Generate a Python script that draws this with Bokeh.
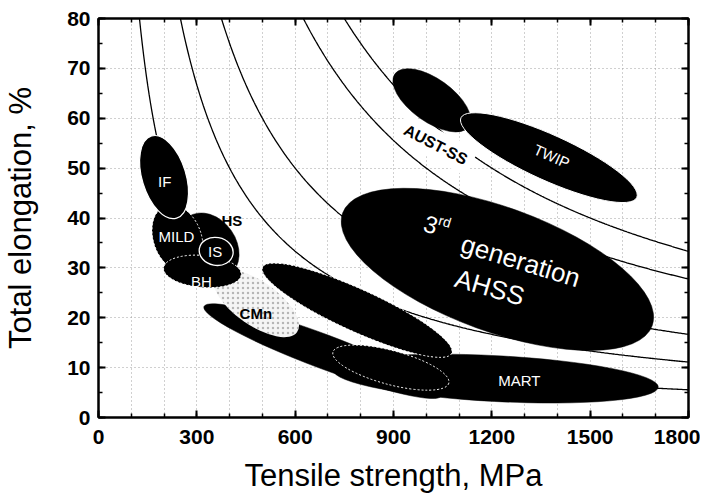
import numpy as np
from bokeh.plotting import figure
from bokeh.models import SingleIntervalTicker, LinearAxis, Range1d
from bokeh.core.properties import value
from bokeh.embed import file_html
from bokeh.resources import INLINE

# ---------------- data ----------------
# iso-product guide curves: tensile strength (MPa) x total elongation (%) = constant
products = [10000, 20000, 30000, 50000, 60000]

# steel-grade regions (ellipses): centre (MPa, %), extent along major axis (MPa-scale),
# extent along minor axis (%-scale), tilt (deg)
region_names = ["MART", "HSLA", "TRIP", "DP", "CMn", "3rd gen AHSS", "AUST-SS", "TWIP",
                "HS", "MILD", "BH", "IS", "IF"]
region_ts = [1212, 684, 892, 789, 481, 1217, 1017, 1374, 335, 241, 317, 359, 200]
region_el = [7.8, 13.3, 10.0, 21.5, 22.9, 29.7, 63.6, 52.1, 34.3, 35.9, 29.3, 33.3, 48.2]
region_ts_span = [993, 774, 366, 634, 305, 1005, 277, 589, 219, 213, 238, 104, 262]
region_el_span = [9.2, 6.8, 6.8, 8.4, 8.8, 24.9, 8.6, 9.1, 11.2, 9.6, 6.4, 5.6, 8.8]
region_tilt = [-3, -20.6, -15, -24.5, -35, -20, -35.6, -24.4, -55, -70, -5, -10, -73]

# labels
white_labels = ["IF", "MILD", "IS", "BH", "MART", "TWIP"]
white_ts = [202, 238, 356, 314, 1284, 1383]
white_el = [47.3, 36.2, 33.3, 27.3, 7.4, 52.4]
white_angle = [0, 0, 0, 0, 0, -24]

black_labels = ["HS", "CMn"]
black_ts = [407, 480]
black_el = [39.4, 20.9]

aust_label = "AUST-SS"
aust_ts, aust_el, aust_angle = 1029, 54.7, -27

x_ticks_interval, y_ticks_interval = 300, 10

# ---------------- styles ----------------
FONT = "Liberation Sans"
region_style = {
    "IF":   dict(line_color="white", line_width=1.2, line_dash="solid"),
    "MILD": dict(line_color="white", line_width=1, line_dash="2 2"),
    "BH":   dict(line_color="white", line_width=1, line_dash="2 2"),
    "IS":   dict(line_color="white", line_width=1.3, line_dash="solid"),
    "DP":   dict(line_color="white", line_width=1, line_dash="2 2"),
    "TRIP": dict(line_color="white", line_width=1, line_dash="2 2"),
    "TWIP": dict(line_color="white", line_width=1, line_dash="solid"),
}

p = figure(width=700, height=499, x_range=Range1d(0, 1800), y_range=Range1d(0, 80),
           output_backend="svg", toolbar_location=None,
           min_border_left=97, min_border_right=12, min_border_top=18, min_border_bottom=82)
p.background_fill_color = "white"
p.border_fill_color = "white"
p.outline_line_color = "black"
p.outline_line_width = 2

bottom_ax = p.below[0]
left_ax = p.left[0]
bottom_ax.ticker = SingleIntervalTicker(interval=x_ticks_interval, num_minor_ticks=3)
left_ax.ticker = SingleIntervalTicker(interval=y_ticks_interval, num_minor_ticks=2)
top = LinearAxis(ticker=SingleIntervalTicker(interval=x_ticks_interval, num_minor_ticks=3),
                 major_label_text_color=None)
right = LinearAxis(ticker=SingleIntervalTicker(interval=y_ticks_interval, num_minor_ticks=2),
                   major_label_text_color=None)
p.add_layout(top, "above")
p.add_layout(right, "right")

for ax in [bottom_ax, left_ax, top, right]:
    ax.axis_line_width = 2
    ax.axis_line_color = "black"
    ax.major_tick_in = 7
    ax.major_tick_out = 0
    ax.minor_tick_in = 4
    ax.minor_tick_out = 0
    ax.major_tick_line_width = 2
    ax.minor_tick_line_width = 1.5
    ax.major_tick_line_color = "black"
    ax.minor_tick_line_color = "black"

for ax in [bottom_ax, left_ax]:
    ax.major_label_text_font = FONT
    ax.major_label_text_font_size = "21px"
    ax.major_label_text_font_style = "bold"
    ax.major_label_text_color = "black"
    ax.axis_label_text_font = FONT
    ax.axis_label_text_font_size = "31px"
    ax.axis_label_text_font_style = "normal"
    ax.axis_label_text_color = "black"

bottom_ax.axis_label = "Tensile strength, MPa"
left_ax.axis_label = "Total elongation, %"
bottom_ax.major_label_standoff = 12
bottom_ax.axis_label_standoff = 11
left_ax.major_label_standoff = 8
left_ax.axis_label_standoff = 26

p.xgrid.ticker = SingleIntervalTicker(interval=100)
p.ygrid.ticker = SingleIntervalTicker(interval=10)
for g in [p.xgrid[0], p.ygrid[0]]:
    g.grid_line_color = "#a0a0a0"
    g.grid_line_dash = "1 3"
    g.grid_line_width = 1

# guide curves
for c in products:
    ts = np.linspace(c / 80.0, 1800, 400)
    p.line(ts, c / ts, line_color="black", line_width=1.3)

# regions
for i, name in enumerate(region_names):
    st = region_style.get(name, dict(line_color="black", line_width=0.5, line_dash="solid"))
    extra = {}
    fill = "black"
    if name == "CMn":
        fill = "#f5f5f5"
        extra = dict(hatch_pattern="dot", hatch_color="#8a8a8a", hatch_scale=5, hatch_alpha=0.6)
        st = dict(line_color=None, line_width=0, line_dash="solid")
    p.ellipse(x=region_ts[i], y=region_el[i], width=region_ts_span[i], height=region_el_span[i],
              angle=region_tilt[i], angle_units="deg", fill_color=fill, **st, **extra)

# labels
p.text(x=white_ts, y=white_el, text=white_labels, angle=white_angle, angle_units="deg",
       text_font=value(FONT), text_font_size="15px", text_color="white",
       text_align="center", text_baseline="middle")
p.text(x=black_ts, y=black_el, text=black_labels,
       text_font=value(FONT), text_font_size="15px", text_font_style="bold", text_color="black",
       text_align="center", text_baseline="middle")
p.text(x=[aust_ts], y=[aust_el], text=[aust_label], angle=aust_angle, angle_units="deg",
       text_font=value(FONT), text_font_size="16px", text_font_style="bold", text_color="black",
       text_align="center", text_baseline="middle",
       background_fill_color="white", padding=6)

# 3rd generation AHSS label
p.text(x=[1014], y=[38.7], text=["3"], angle=-17, angle_units="deg",
       text_font=value(FONT), text_font_size="24px", text_color="white",
       text_align="center", text_baseline="middle")
p.text(x=[1057], y=[39.3], text=["rd"], angle=-17, angle_units="deg",
       text_font=value(FONT), text_font_size="14px", text_color="white",
       text_align="center", text_baseline="middle")
p.text(x=[1288], y=[31.4], text=["generation"], angle=-17, angle_units="deg",
       text_font=value(FONT), text_font_size="26px", text_color="white",
       text_align="center", text_baseline="middle")
p.text(x=[1194], y=[26.1], text=["AHSS"], angle=-16, angle_units="deg",
       text_font=value(FONT), text_font_size="26px", text_color="white",
       text_align="center", text_baseline="middle")

open("out.html", "w").write(file_html(p, INLINE))
